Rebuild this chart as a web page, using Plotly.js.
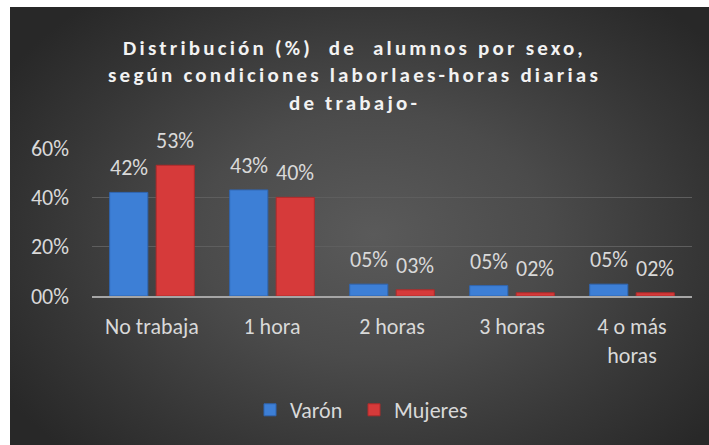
<!DOCTYPE html>
<html>
<head>
<meta charset="utf-8">
<script src="https://cdn.plot.ly/plotly-3.0.1.min.js"></script>
<style>
  html, body { margin: 0; padding: 0; background: #ffffff; }
  #wrap { position: relative; width: 709px; height: 445px; overflow: hidden; }
  #bg { position: absolute; left: 10px; top: 7px; right: 0; bottom: 0;
        background: radial-gradient(ellipse 62% 70% at 52% 52%, #5a5a5a 0%, #4b4b4b 40%, #363636 75%, #282828 100%); }
  #chart { position: absolute; left: 0; top: 0; width: 709px; height: 445px; }
  .gtitle { letter-spacing: 3.2px; }
</style>
</head>
<body>
<div id="wrap">
  <div id="bg"></div>
  <div id="chart"></div>
</div>
<script>
const categories = ["No trabaja", "1 hora", "2 horas", "3 horas", "4 o más<br>horas"];
const varonValues = [42, 43, 4.8, 4.2, 4.8];
const mujeresValues = [53, 40, 2.5, 1.3, 1.3];
const varonLabels = ["42%", "43%", "05%", "05%", "05%"];
const mujeresLabels = ["53%", "40%", "03%", "02%", "02%"];
const yTickVals = [0, 20, 40, 60];
const yTickText = ["00%", "20%", "40%", "60%"];

const FONT = "Carlito, Lato, 'Open Sans', sans-serif";
const TXT = "#d9d9d9";
const FS = 22;

const traces = [
  { type: "bar", name: "Varón", x: categories, y: varonValues, legend: "legend",
    marker: { color: "#3d7fd6", line: { color: "#2f66b3", width: 1 } }, hoverinfo: "none" },
  { type: "bar", name: "Mujeres", x: categories, y: mujeresValues, legend: "legend2",
    marker: { color: "#d63a3a", line: { color: "#b02a2a", width: 1 } }, hoverinfo: "none" }
];

const annotations = [];
const series = [[varonValues, varonLabels, -23.25], [mujeresValues, mujeresLabels, 23.25]];
series.forEach(([vals, labs, dx]) => {
  vals.forEach((v, j) => {
    annotations.push({ x: categories[j], y: v, xref: "x", yref: "y", text: labs[j],
      showarrow: false, xshift: dx, yshift: 9, yanchor: "bottom", xanchor: "center",
      font: { family: FONT, size: FS, color: TXT } });
  });
});

const legendBase = { orientation: "h", xref: "container", yref: "container", xanchor: "left",
  y: 1 - 389/445, yanchor: "top", font: { family: FONT, size: FS, color: TXT }, bgcolor: "rgba(0,0,0,0)",
  itemwidth: 30 };

const layout = {
  width: 709, height: 445,
  paper_bgcolor: "rgba(0,0,0,0)", plot_bgcolor: "rgba(0,0,0,0)",
  margin: { l: 92, r: 17, t: 148, b: 149, pad: 0 },
  font: { family: FONT, color: TXT },
  title: { text: "<b>Distribución (%)  de  alumnos por sexo,<br>según condiciones laborlaes-horas diarias<br>de trabajo-</b>",
    font: { family: FONT, size: 21, color: "#f2f2f2" },
    xref: "container", x: 0.5, xanchor: "center", yref: "container", y: 1 - 55/445, yanchor: "top" },
  barmode: "group", bargap: 0.225, bargroupgap: 0.18,
  xaxis: { type: "category", tickfont: { family: FONT, size: FS, color: TXT }, showgrid: false,
    showline: true, linecolor: "#a6a6a6", linewidth: 2, ticks: "", ticklabelstandoff: 10, fixedrange: true },
  yaxis: { range: [0, 60], tickvals: yTickVals, ticktext: yTickText, tickfont: { family: FONT, size: FS, color: TXT },
    showgrid: true, gridcolor: "#5e5e5e", gridwidth: 1.5, zeroline: false, showline: false, ticks: "",
    ticklabelstandoff: 22, fixedrange: true },
  showlegend: true,
  legend: Object.assign({}, legendBase, { x: 250/709 }),
  legend2: Object.assign({}, legendBase, { x: 354/709 }),
  annotations: annotations
};

Plotly.newPlot("chart", traces, layout, { displayModeBar: false, staticPlot: true });
</script>
</body>
</html>
